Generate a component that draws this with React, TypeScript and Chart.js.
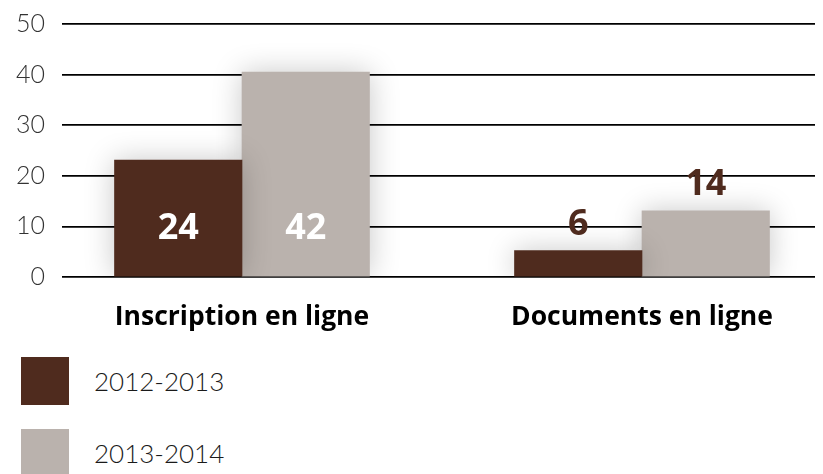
import React, { useEffect, useRef } from "react";
import { Chart, registerables } from "chart.js";

Chart.register(...registerables);

const categories = ["Inscription en ligne", "Documents en ligne"];
const seriesNames = ["2012-2013", "2013-2014"];
const series2012 = [23.1, 5.2];
const series2013 = [40.5, 13.1];
const labels2012 = ["24", "6"];
const labels2013 = ["42", "14"];
const seriesColors = ["#4f2b1e", "#bab2ad"];
const yTicks = [0, 10, 20, 30, 40, 50];

const LIGHT = "Lato";
const BOLD = "'Open Sans'";

const shadowPlugin = {
  id: "barShadow",
  beforeDatasetsDraw(chart: any) {
    const ctx = chart.ctx;
    ctx.save();
    ctx.shadowColor = "rgba(0,0,0,0.22)";
    ctx.shadowBlur = 28;
    ctx.shadowOffsetX = 0;
    ctx.shadowOffsetY = 0;
  },
  afterDatasetsDraw(chart: any) {
    chart.ctx.restore();
  },
};

const valueLabelPlugin = {
  id: "valueLabels",
  afterDatasetsDraw(chart: any) {
    const ctx = chart.ctx;
    const yScale = chart.scales.y;
    const textSets = [labels2012, labels2013];
    ctx.save();
    ctx.font = `700 36px ${BOLD}`;
    ctx.textAlign = "center";
    ctx.textBaseline = "middle";
    chart.data.datasets.forEach((ds: any, di: number) => {
      const meta = chart.getDatasetMeta(di);
      meta.data.forEach((bar: any, i: number) => {
        const v = ds.data[i].y;
        const txt = textSets[di][i];
        if (v >= 20) {
          ctx.fillStyle = "#ffffff";
          ctx.fillText(txt, bar.x, yScale.getPixelForValue(10) + 2);
        } else {
          ctx.fillStyle = seriesColors[0];
          ctx.fillText(txt, bar.x, bar.y - 26);
        }
      });
    });
    ctx.restore();
  },
};

export default function App() {
  const ref = useRef<HTMLCanvasElement | null>(null);

  useEffect(() => {
    if (!ref.current) return;
    const chart = new Chart(ref.current, {
      type: "bar",
      data: {
        datasets: [
          {
            label: seriesNames[0],
            data: series2012.map((y, i) => ({ x: i, y })),
            backgroundColor: seriesColors[0],
            borderWidth: 0,
            barThickness: 127.5,
          },
          {
            label: seriesNames[1],
            data: series2013.map((y, i) => ({ x: i, y })),
            backgroundColor: seriesColors[1],
            borderWidth: 0,
            barThickness: 127.5,
          },
        ],
      },
      options: {
        responsive: false,
        animation: false,
        layout: { padding: { top: 16, left: 0, right: 0, bottom: 0 } },
        plugins: {
          legend: { display: false },
          tooltip: { enabled: false },
        },
        scales: {
          x: {
            type: "linear",
            min: -0.45,
            max: 1.4525,
            offset: false,
            grid: { display: false, offset: false },
            border: { display: false },
            afterBuildTicks: (scale: any) => {
              scale.ticks = categories.map((_, i) => ({ value: i }));
            },
            afterFit: (scale: any) => {
              scale.height = 71;
            },
            ticks: {
              autoSkip: false,
              maxRotation: 0,
              padding: 17,
              color: "#000000",
              font: { family: BOLD, weight: "bold", size: 26.5 },
              callback: (v: any) => categories[Math.round(Number(v))] ?? "",
            },
          },
          y: {
            min: 0,
            max: 50,
            afterBuildTicks: (scale: any) => {
              scale.ticks = yTicks.map((value) => ({ value }));
            },
            afterFit: (scale: any) => {
              scale.width = 54;
              scale.paddingTop = 12;
              scale.paddingBottom = 12;
            },
            grid: { color: "#000000", lineWidth: 1.7, drawTicks: false },
            border: { display: false },
            ticks: {
              padding: 17,
              color: "#333333",
              font: { family: LIGHT, weight: 300, size: 25 },
            },
          },
        },
      },
      plugins: [shadowPlugin, valueLabelPlugin],
    } as any);
    return () => chart.destroy();
  }, []);

  return (
    <div style={{ position: "relative", width: 815, height: 466 }}>
      <canvas ref={ref} width={815} height={340} style={{ display: "block" }} />
      <div style={{ position: "absolute", top: 349, left: 13 }}>
        {seriesNames.map((name, i) => (
          <div
            key={name}
            style={{ display: "flex", alignItems: "center", height: 48, marginBottom: 24 }}
          >
            <div style={{ width: 48, height: 48, background: seriesColors[i] }} />
            <span
              style={{
                marginLeft: 25,
                fontFamily: LIGHT,
                fontWeight: 300,
                fontSize: 26,
                color: "#1a1a1a",
              }}
            >
              {name}
            </span>
          </div>
        ))}
      </div>
    </div>
  );
}
